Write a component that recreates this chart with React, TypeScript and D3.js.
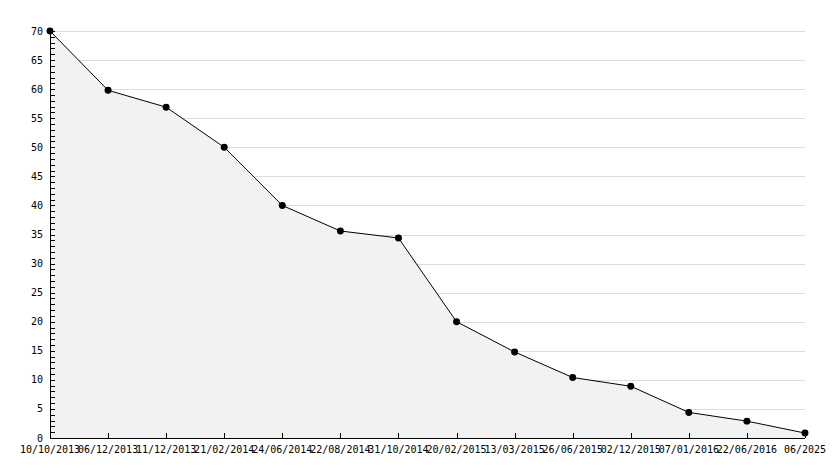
import React from "react";
import * as d3 from "d3";

const categories = [
  "10/10/2013", "06/12/2013", "11/12/2013", "21/02/2014", "24/06/2014",
  "22/08/2014", "31/10/2014", "20/02/2015", "13/03/2015", "26/06/2015",
  "02/12/2015", "07/01/2016", "22/06/2016", "06/2025",
];
const values = [70, 59.8, 56.9, 50, 40, 35.6, 34.4, 20, 14.8, 10.4, 8.9, 4.4, 2.9, 0.85];
const yTicks = [0, 5, 10, 15, 20, 25, 30, 35, 40, 45, 50, 55, 60, 65, 70];

const W = 834;
const H = 468;
const left = 50;
const right = 805;
const top = 31;
const bottom = 438;
const font = "'DejaVu Sans Mono', monospace";

export default function App() {
  const x = d3.scalePoint<string>().domain(categories).range([left, right]);
  const y = d3.scaleLinear().domain([0, 70]).range([bottom, top]);
  const pts = categories.map((c, i) => [x(c)!, y(values[i])] as [number, number]);
  const line = d3.line()(pts)!;
  const area = d3.area<[number, number]>().x((d) => d[0]).y0(bottom).y1((d) => d[1])(pts)!;
  const minor = d3.range(0, 71, 1);

  return (
    <svg width={W} height={H} style={{ position: "absolute", left: 0, top: 0, background: "#fff" }}>
      {yTicks.filter((t) => t > 0).map((t) => (
        <line key={"g" + t} x1={left} x2={right} y1={Math.round(y(t)) + 0.5} y2={Math.round(y(t)) + 0.5} stroke="#dcdcdc" strokeWidth={1} />
      ))}
      <path d={area} fill="#f2f2f2" />
      <path d={line} fill="none" stroke="#000" strokeWidth={1} />
      {/* y axis */}
      <line x1={left + 0.5} x2={left + 0.5} y1={top} y2={bottom} stroke="#000" />
      {minor.map((t) => (
        <line key={"m" + t} x1={left} x2={left + 5} y1={Math.round(y(t)) + 0.5} y2={Math.round(y(t)) + 0.5} stroke="#000" />
      ))}
      {yTicks.map((t) => (
        <text key={"yl" + t} x={43} y={y(t)} dy="0.35em" textAnchor="end" fontFamily={font} fontSize={10} fill="#000">
          {t}
        </text>
      ))}
      {/* x axis */}
      <line x1={left} x2={right} y1={bottom + 0.5} y2={bottom + 0.5} stroke="#000" />
      {categories.map((c) => (
        <line key={"xt" + c} x1={Math.round(x(c)!) + 0.5} x2={Math.round(x(c)!) + 0.5} y1={bottom - 5} y2={bottom} stroke="#000" />
      ))}
      {categories.map((c) => (
        <text key={"xl" + c} x={x(c)!} y={453} textAnchor="middle" fontFamily={font} fontSize={10} fill="#000">
          {c}
        </text>
      ))}
      {pts.map((p, i) => (
        <path key={"p" + i} d={d3.symbol(d3.symbolCircle, 38)()!} transform={`translate(${p[0]},${p[1]})`} fill="#000" />
      ))}
    </svg>
  );
}
